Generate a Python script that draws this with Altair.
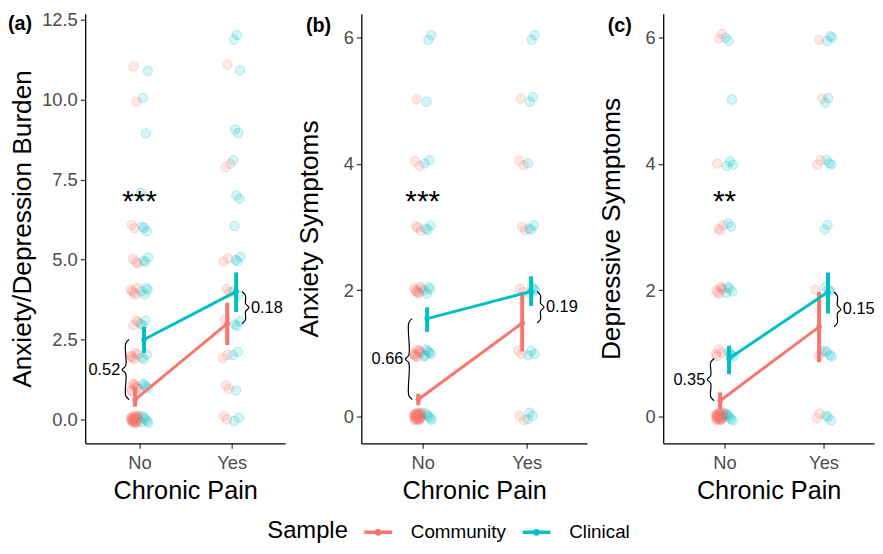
import altair as alt
import pandas as pd

# ---------------- data ----------------
samples = ["Community", "Clinical"]
colors = ["#F8766D", "#00BFC4"]
pain_labels = ["No", "Yes"]
panel_ids = ["a", "b", "c"]
panel_tags = ["(a)", "(b)", "(c)"]
y_titles = ["Anxiety/Depression Burden", "Anxiety Symptoms", "Depressive Symptoms"]
stars = ["***", "***", "**"]
star_y = [6.87, 3.43, 3.43]
brace_left_labels = ["0.52", "0.66", "0.35"]
brace_right_labels = ["0.18", "0.19", "0.15"]

# means / interval ends, order [No, Yes]
comm_mean = {"a": [0.62, 3.0], "b": [0.27, 1.48], "c": [0.25, 1.42]}
comm_lo = {"a": [0.40, 2.33], "b": [0.18, 1.03], "c": [0.12, 0.86]}
comm_hi = {"a": [1.00, 3.65], "b": [0.36, 1.97], "c": [0.38, 1.97]}
clin_mean = {"a": [2.50, 4.00], "b": [1.55, 1.98], "c": [0.92, 1.97]}
clin_lo = {"a": [2.08, 3.36], "b": [1.34, 1.75], "c": [0.67, 1.63]}
clin_hi = {"a": [2.90, 4.60], "b": [1.73, 2.22], "c": [1.12, 2.28]}

# raw scores (jittered points)
a_comm_no = [0]*25 + [1]*8 + [2]*6 + [3]*3 + [4]*5 + [5]*3 + [6]*2 + [10, 11]
a_clin_no = [0]*6 + [1]*4 + [2]*3 + [3]*3 + [4]*4 + [5]*3 + [6]*3 + [7, 9, 10, 11]
a_comm_yes = [0]*2 + [1]*2 + [2]*2 + [3] + [4]*2 + [5]*2 + [8]*2 + [11]
a_clin_yes = [0]*2 + [1] + [2]*2 + [3]*3 + [4]*2 + [5]*3 + [6] + [7]*2 + [8] + [9]*2 + [11] + [12]*2
b_comm_no = [0]*30 + [1]*10 + [2]*8 + [3]*3 + [4]*2 + [5]
b_clin_no = [0]*5 + [1]*6 + [2]*4 + [3]*3 + [4]*2 + [5] + [6]*2
b_comm_yes = [0]*2 + [1]*2 + [2]*2 + [3]*2 + [4]*2 + [5]
b_clin_yes = [0]*3 + [1]*3 + [2]*4 + [3]*3 + [4] + [5]*2 + [6]*2
c_comm_no = [0]*30 + [1]*4 + [2]*6 + [3]*3 + [4] + [6]*2
c_clin_no = [0]*6 + [1]*4 + [2]*4 + [3]*2 + [4]*3 + [5] + [6]*2
c_comm_yes = [0]*2 + [1]*2 + [2] + [4]*2 + [5] + [6]
c_clin_yes = [0]*3 + [1]*4 + [2]*3 + [3]*2 + [4]*3 + [5]*2 + [6]*3

raw = {
    "a": {("Community", 1): a_comm_no, ("Clinical", 1): a_clin_no,
          ("Community", 2): a_comm_yes, ("Clinical", 2): a_clin_yes},
    "b": {("Community", 1): b_comm_no, ("Clinical", 1): b_clin_no,
          ("Community", 2): b_comm_yes, ("Clinical", 2): b_clin_yes},
    "c": {("Community", 1): c_comm_no, ("Clinical", 1): c_clin_no,
          ("Community", 2): c_comm_yes, ("Clinical", 2): c_clin_yes},
}

# ---------------- layout / style ----------------
H = 434
cfg = {
    "a": dict(width=202, xdom=[0.41, 2.58], ydom=[-0.743, 12.686],
              yticks=[0, 2.5, 5, 7.5, 10, 12.5], fmt=".1f", tpad=5, bo=14),
    "b": dict(width=228, xdom=[0.41, 2.58], ydom=[-0.423, 6.376],
              yticks=[0, 2, 4, 6], fmt="d", tpad=20, bo=14),
    "c": dict(width=213, xdom=[0.38, 2.51], ydom=[-0.423, 6.376],
              yticks=[0, 2, 4, 6], fmt="d", tpad=20, bo=14),
}
FONT = "Liberation Sans"
color_scale = alt.Scale(domain=samples, range=colors)


def brace_points(xs, lo, hi, direction, ppx, ppy):
    """Shape of a curly brace between lo and hi at stem position xs."""
    w = 3.5 / ppx * direction
    c = 4.0 / ppy
    m = (lo + hi) / 2
    return [(xs - w, hi), (xs, hi - c), (xs, m + c), (xs + w, m),
            (xs, m - c), (xs, lo + c), (xs - w, lo)]


def make_panel(i, show_legend):
    pid = panel_ids[i]
    p = cfg[pid]
    ppx = p["width"] / (p["xdom"][1] - p["xdom"][0])
    ppy = H / (p["ydom"][1] - p["ydom"][0])

    xscale = alt.Scale(domain=p["xdom"], nice=False, zero=False)
    yscale = alt.Scale(domain=p["ydom"], nice=False, zero=False)
    xaxis = alt.Axis(values=[1, 2], labelExpr="datum.value == 1 ? 'No' : 'Yes'",
                     title="Chronic Pain", titleFontSize=25.5)
    yaxis = alt.Axis(values=p["yticks"], format=p["fmt"], title=y_titles[i],
                     titlePadding=p["tpad"], titleFontSize=26.5)
    plain_color = alt.Color("sample:N", scale=color_scale)

    # raw points
    rows = []
    for (s, pain), vals in raw[pid].items():
        for v in vals:
            rows.append({"sample": s, "pain": pain, "value": v})
    pts = pd.DataFrame(rows)
    jx = 4.0 / ppx
    jy = 4.0 / ppy
    dodge_pts = 5.0 / ppx
    pbase = alt.Chart(pts).transform_window(
        idx="row_number()"
    ).transform_calculate(
        xj=f"datum.pain + (datum.sample == 'Community' ? -{dodge_pts} : {dodge_pts})"
           f" + ((datum.idx * 0.618034) % 1 * 2 - 1) * {jx}",
        yj=f"datum.value + ((datum.idx * 0.4142136 + 0.3) % 1 * 2 - 1) * {jy}",
    )
    points_fill = pbase.mark_circle(size=90, opacity=1, fillOpacity=0.17).encode(
        x=alt.X("xj:Q", scale=xscale, axis=xaxis),
        y=alt.Y("yj:Q", scale=yscale, axis=yaxis),
        color=plain_color,
    )
    points_rim = pbase.mark_point(filled=False, size=90, strokeWidth=1, opacity=1,
                                  strokeOpacity=0.25).encode(
        x="xj:Q", y="yj:Q", color=plain_color)

    # summary
    dodge = 4.5 / ppx
    srows = []
    for k in range(2):
        srows.append({"sample": "Community", "pain": k + 1, "xd": k + 1 - dodge,
                      "mean": comm_mean[pid][k], "lo": comm_lo[pid][k], "hi": comm_hi[pid][k]})
        srows.append({"sample": "Clinical", "pain": k + 1, "xd": k + 1 + dodge,
                      "mean": clin_mean[pid][k], "lo": clin_lo[pid][k], "hi": clin_hi[pid][k]})
    summ = pd.DataFrame(srows)
    base = alt.Chart(summ)
    if show_legend:
        leg = alt.Legend(
            orient="none", legendX=184, legendY=512, direction="horizontal",
            title="Sample", titleOrient="left", titleFontSize=24,
            titleFontWeight="normal", titleColor="black", titleFont=FONT,
            titlePadding=18, labelFontSize=19, labelFont=FONT, labelColor="black",
            symbolType="M-1.4,0H1.4M0.17,0A0.17,0.17,0,1,1,-0.17,0A0.17,0.17,0,1,1,0.17,0",
            symbolSize=400, symbolStrokeWidth=3.5, symbolOpacity=1, labelOffset=21,
            columnPadding=9, titleBaseline="middle", titleAnchor="middle",
        )
        line_color = alt.Color("sample:N", scale=color_scale, legend=leg)
    else:
        line_color = plain_color

    errs = base.mark_rule(strokeWidth=4).encode(
        x="xd:Q", y="lo:Q", y2="hi:Q", color=plain_color)
    lines = base.mark_line(strokeWidth=3).encode(
        x="xd:Q", y="mean:Q", color=line_color, detail="sample:N")
    dots = base.mark_circle(size=30, opacity=1).encode(
        x="xd:Q", y="mean:Q", color=plain_color)

    # braces
    bo = p["bo"] / ppx
    brows = []
    left = brace_points(1 - bo, comm_mean[pid][0], clin_mean[pid][0], -1, ppx, ppy)
    right = brace_points(2 + bo, comm_mean[pid][1], clin_mean[pid][1], 1, ppx, ppy)
    for j, (bx, by) in enumerate(left):
        brows.append({"brace": "L", "ord": j, "bx": bx, "by": by})
    for j, (bx, by) in enumerate(right):
        brows.append({"brace": "R", "ord": j, "bx": bx, "by": by})
    braces = alt.Chart(pd.DataFrame(brows)).mark_line(
        color="black", strokeWidth=1.2, interpolate="catmull-rom").encode(
        x="bx:Q", y="by:Q", detail="brace:N", order="ord:Q")

    lab_df = pd.DataFrame([
        {"t": brace_left_labels[i], "lx": 1 - bo - 5.5 / ppx,
         "ly": (comm_mean[pid][0] + clin_mean[pid][0]) / 2, "side": "L"},
        {"t": brace_right_labels[i], "lx": 2 + bo + 5.5 / ppx,
         "ly": (comm_mean[pid][1] + clin_mean[pid][1]) / 2, "side": "R"},
    ])
    lab_l = alt.Chart(lab_df).transform_filter("datum.side == 'L'").mark_text(
        align="right", baseline="middle", fontSize=16.5, font=FONT, color="black").encode(
        x="lx:Q", y="ly:Q", text="t:N")
    lab_r = alt.Chart(lab_df).transform_filter("datum.side == 'R'").mark_text(
        align="left", baseline="middle", fontSize=16.5, font=FONT, color="black").encode(
        x="lx:Q", y="ly:Q", text="t:N")

    star_df = pd.DataFrame([{"t": stars[i], "sx": 1, "sy": star_y[i]}])
    star = alt.Chart(star_df).mark_text(
        align="center", baseline="alphabetic", dy=11, fontSize=30, font=FONT,
        color="black").encode(x="sx:Q", y="sy:Q", text="t:N")

    tag_df = pd.DataFrame([{"t": panel_tags[i]}])
    tag_x = -78 if pid == "a" else -56
    tag_y = 0 if pid == "a" else 2
    tag = alt.Chart(tag_df).mark_text(
        align="left", baseline="top", fontSize=20, fontWeight="bold", font=FONT,
        color="black").encode(x=alt.value(tag_x), y=alt.value(tag_y), text="t:N")

    return alt.layer(points_fill, points_rim, errs, lines, dots, braces, lab_l, lab_r,
                     star, tag).properties(width=p["width"], height=H)


chart = alt.hconcat(make_panel(0, True), make_panel(1, False), make_panel(2, False),
                    spacing=11).properties(
    padding={"left": 0, "top": 0, "right": 0, "bottom": 0}
).configure_view(strokeWidth=0).configure_axis(
    grid=False, domainColor="black", domainWidth=1.3, tickColor="#333333",
    tickSize=5, tickWidth=1.2, labelColor="#4D4D4D", labelFontSize=18.5,
    labelFont=FONT, titleFont=FONT, titleFontWeight="normal",
    titleColor="black", labelPadding=3
).configure_axisX(titlePadding=7, labelPadding=5)

chart.save("out.html", embed_options={"renderer": "svg", "actions": False})
